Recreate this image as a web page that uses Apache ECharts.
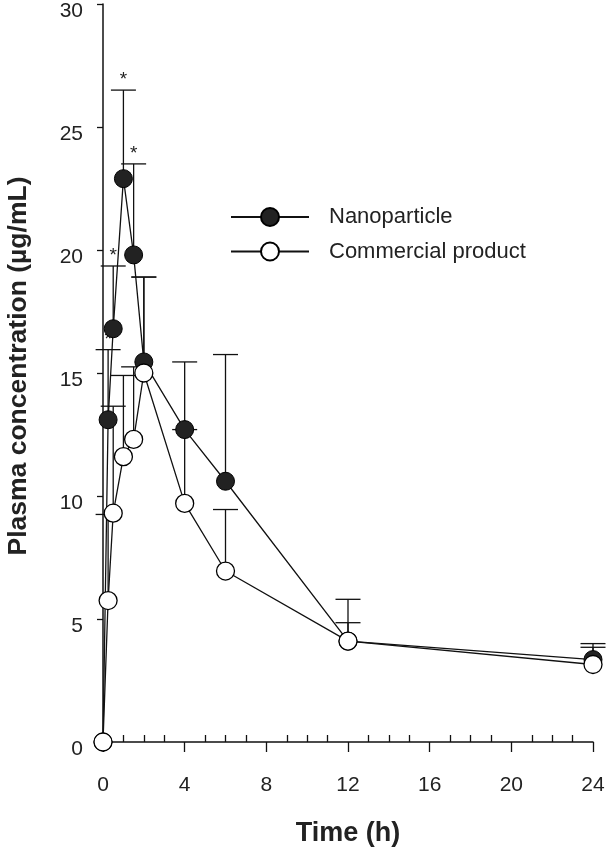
<!DOCTYPE html>
<html>
<head>
<meta charset="utf-8">
<script src="https://cdn.jsdelivr.net/npm/echarts@6/dist/echarts.min.js"></script>
<style>
html,body{margin:0;padding:0;background:#fff;}
#chart{width:607px;height:850px;}
</style>
</head>
<body>
<div id="chart"></div>
<script>
// ---- data ----
const timeH = [0, 0.25, 0.5, 1, 1.5, 2, 4, 6, 12, 24];
const nanoMean = [0, 13.1, 16.8, 22.9, 19.8, 15.45, 12.7, 10.6, 4.1, 3.35];
const nanoUpper = [null, 15.95, 19.35, 26.5, 23.5, 18.9, 15.45, 15.75, 5.8, 4.0];
const nanoSignificant = [false, true, true, true, true, false, false, false, false, false];
const commMean = [0, 5.75, 9.3, 11.6, 12.3, 15.0, 9.7, 6.95, 4.1, 3.15];
const commUpper = [null, 9.25, 13.65, 14.9, 15.25, 18.9, 12.7, 9.45, 4.85, 3.85];
const xTicks = [0, 4, 8, 12, 16, 20, 24];
const yTicks = [0, 5, 10, 15, 20, 25, 30];
const seriesNames = ['Nanoparticle', 'Commercial product'];

const FONT = '"Liberation Sans", Arial, Helvetica, sans-serif';
const INK = '#111';

function errorBars(name, mean, upper, stars, z) {
  const data = [];
  timeH.forEach((t, i) => {
    if (upper[i] != null) data.push([t, mean[i], upper[i], stars && stars[i] ? 1 : 0]);
  });
  return {
    type: 'custom',
    name: name + ' SD',
    z: z,
    silent: true,
    animation: false,
    data: data,
    encode: { x: 0, y: [1, 2] },
    renderItem: function (params, api) {
      const t = api.value(0), m = api.value(1), u = api.value(2), s = api.value(3);
      const p0 = api.coord([t, m]);
      const p1 = api.coord([t, u]);
      const hw = 12.5;
      const st = { stroke: INK, lineWidth: 1.3 };
      const children = [
        { type: 'line', shape: { x1: p0[0], y1: p0[1], x2: p1[0], y2: p1[1] }, style: st },
        { type: 'line', shape: { x1: p1[0] - hw, y1: p1[1], x2: p1[0] + hw, y2: p1[1] }, style: st }
      ];
      if (s) {
        children.push({
          type: 'text', x: p1[0], y: p1[1] - 10,
          style: { text: '*', font: '19px ' + FONT, fill: '#222', align: 'center', verticalAlign: 'middle' }
        });
      }
      return { type: 'group', children: children };
    }
  };
}

const chart = echarts.init(document.getElementById('chart'), null, { renderer: 'canvas' });
const xMin = xTicks[0], xMax = xTicks[xTicks.length - 1], xStep = xTicks[1] - xTicks[0];
const yMin = yTicks[0], yMax = yTicks[yTicks.length - 1], yStep = yTicks[1] - yTicks[0];

chart.setOption({
  animation: false,
  backgroundColor: '#fff',
  textStyle: { fontFamily: FONT },
  grid: { left: 103, right: 14, top: 4, bottom: 108, containLabel: false, outerBoundsMode: 'none' },
  legend: {
    data: seriesNames,
    orient: 'vertical',
    left: 225,
    top: 201,
    itemWidth: 78,
    itemHeight: 22.5,
    itemGap: 12.5,
    selectedMode: false,
    textStyle: { fontSize: 22, color: '#222', fontFamily: FONT, padding: [0, 0, 0, 15] }
  },
  xAxis: [
    {
      type: 'value', min: xMin, max: xMax, interval: xStep,
      name: 'Time (h)', nameLocation: 'middle', nameGap: 78,
      nameTextStyle: { fontSize: 27, fontWeight: 'bold', color: '#222', fontFamily: FONT },
      axisLine: { show: true, onZero: false, lineStyle: { color: INK, width: 1.5 } },
      axisTick: { show: true, inside: false, length: 10, lineStyle: { color: INK, width: 1.3 } },
      axisLabel: { fontSize: 21, color: '#222', margin: 33, fontFamily: FONT },
      splitLine: { show: false }
    },
    {
      type: 'value', min: xMin, max: xMax, interval: xStep, position: 'bottom',
      axisLine: { show: false },
      axisTick: { show: false, inside: true },
      minorTick: { show: true, splitNumber: 4, length: 7, lineStyle: { color: INK, width: 1.3 } },
      axisLabel: { show: false },
      splitLine: { show: false }, minorSplitLine: { show: false }
    }
  ],
  yAxis: {
    type: 'value', min: yMin, max: yMax, interval: yStep,
    name: 'Plasma concentration (\u00b5g/mL)', nameLocation: 'middle', nameGap: 71,
    nameTextStyle: { fontSize: 26.5, fontWeight: 'bold', color: '#222', fontFamily: FONT, padding: [0, 0, 0, 14] },
    axisLine: { show: true, onZero: false, lineStyle: { color: INK, width: 1.5 } },
    axisTick: { show: true, inside: false, length: 6, lineStyle: { color: INK, width: 1.3 } },
    axisLabel: { fontSize: 21, color: '#222', margin: 20, fontFamily: FONT, verticalAlign: 'top', lineHeight: 14 },
    splitLine: { show: false }
  },
  series: [
    errorBars('Nanoparticle', nanoMean, nanoUpper, nanoSignificant, 1),
    errorBars('Commercial product', commMean, commUpper, null, 1),
    {
      type: 'line', name: seriesNames[0], z: 3,
      data: timeH.map((t, i) => [t, nanoMean[i]]),
      symbol: 'circle', symbolSize: 18, showAllSymbol: true,
      lineStyle: { color: INK, width: 1.3 },
      itemStyle: { color: '#222', borderColor: '#000', borderWidth: 1 },
      emphasis: { disabled: true }
    },
    {
      type: 'line', name: seriesNames[1], z: 4,
      data: timeH.map((t, i) => [t, commMean[i]]),
      symbol: 'circle', symbolSize: 18, showAllSymbol: true,
      lineStyle: { color: INK, width: 1.3 },
      itemStyle: { color: '#fff', borderColor: '#000', borderWidth: 1.3 },
      emphasis: { disabled: true }
    }
  ]
});
</script>
</body>
</html>
